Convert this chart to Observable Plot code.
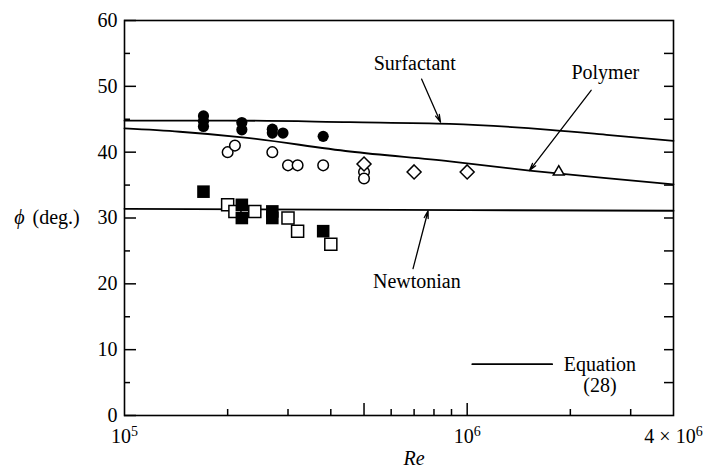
<!DOCTYPE html>
<html>
<head>
<meta charset="utf-8">
<script src="https://cdn.jsdelivr.net/npm/d3@7"></script>
<script src="https://cdn.jsdelivr.net/npm/@observablehq/plot@0.6"></script>
<style>
  body { margin: 0; background: #fff; }
  #chart svg { display: block; }
</style>
</head>
<body>
<div id="chart"></div>
<script>
// ---------- data ----------
// Surfactant (filled circles)
const filledCircleRe  = [1.7e5, 1.7e5, 1.7e5, 2.2e5, 2.2e5, 2.7e5, 2.7e5, 2.9e5, 3.8e5];
const filledCirclePhi = [45.5, 44.7, 43.9, 44.5, 43.4, 43.5, 42.9, 42.9, 42.4];
// Polymer (hollow circles)
const hollowCircleRe  = [2.0e5, 2.1e5, 2.7e5, 3.0e5, 3.2e5, 3.8e5, 5e5, 5e5];
const hollowCirclePhi = [40, 41, 40, 38, 38, 38, 37, 36];
// Newtonian (filled squares)
const filledSquareRe  = [1.7e5, 2.2e5, 2.2e5, 2.7e5, 2.7e5, 3.8e5];
const filledSquarePhi = [34, 32, 30, 31, 30, 28];
// Newtonian (hollow squares)
const hollowSquareRe  = [2.0e5, 2.1e5, 2.4e5, 3.0e5, 3.2e5, 4.0e5];
const hollowSquarePhi = [32, 31, 31, 30, 28, 26];
// Polymer (diamonds, triangle)
const diamondRe  = [5e5, 7e5, 1e6];
const diamondPhi = [38.2, 37, 37];
const triangleRe  = [1.85e6];
const trianglePhi = [37];

// Equation (28) curves
const surfactantRe  = [1e5, 2e5, 4.55e5, 8.9e5, 1.74e6, 2.6e6, 4e6];
const surfactantPhi = [44.8, 44.8, 44.55, 44.3, 43.4, 42.6, 41.7];
const polymerRe  = [1e5, 1.45e5, 2.17e5, 4.55e5, 8.9e5, 1.52e6, 2.5e6, 4e6];
const polymerPhi = [43.6, 43.1, 42.3, 40.1, 38.6, 37.2, 36.1, 35.1];
const newtonianRe  = [1e5, 1e6, 4e6];
const newtonianPhi = [31.4, 31.2, 31.1];

// Legend sample line
const legendRe  = [1.035e6, 1.77e6];
const legendPhi = [7.8, 7.8];

// Annotation texts
const noteLabels = ["Surfactant", "Polymer", "Newtonian", "Equation", "(28)"];
const noteRe     = [7.03e5, 2.53e6, 7.13e5, 2.44e6, 2.44e6];
const notePhi    = [53.4, 52.1, 20.4, 7.8, 4.6];

// Annotation arrows
const arrowRe1  = [7.36e5, 2.30e6, 6.95e5];
const arrowPhi1 = [51.1, 49.4, 22.3];
const arrowRe2  = [8.36e5, 1.52e6, 7.69e5];
const arrowPhi2 = [44.55, 37.2, 31.1];

// Axes
const yTickValues = [0, 10, 20, 30, 40, 50, 60];
const yMinorTicks = [5, 15, 25, 35, 45, 55];
const yRightTicks = [5, 10, 15, 20, 25, 30, 35, 40, 45, 50, 55];
const xLabelValues = [1e5, 1e6, 4e6];
const xTickLabels  = ["10^5", "10^6", "4 × 10^6"];
const xMajorTicks = [5e5, 1e6];
const xMinorTicks = [2e5, 3e5, 4e5, 6e5, 7e5, 8e5, 9e5, 2e6, 3e6];
const xLabelText = "Re";
const yLabelSymbol = "ϕ";
const yLabelUnit = "(deg.)";

// ---------- build ----------
const W = 706, H = 475, mL = 124, mR = 33, mT = 20, mB = 60;
const fw = W - mL - mR, fh = H - mT - mB;
const pts = (re, phi) => re.map((r, i) => ({re: r, phi: phi[i]}));
const FONT = "'Liberation Serif', 'Times New Roman', 'DejaVu Serif', serif";

const notes = noteLabels.map((t, i) => ({label: t, re: noteRe[i], phi: notePhi[i]}));
const arrows = arrowRe1.map((r, i) => ({x1: r, y1: arrowPhi1[i], x2: arrowRe2[i], y2: arrowPhi2[i]}));

const lineOpts = {x: "re", y: "phi", stroke: "#000", strokeWidth: 1.8, curve: "monotone-x"};
const hollow = {fill: "#fff", stroke: "#000", strokeWidth: 1.5};

const chart = Plot.plot({
  width: W, height: H,
  marginLeft: mL, marginRight: mR, marginTop: mT, marginBottom: mB,
  style: {fontFamily: FONT, fontSize: "20px", background: "#fff", color: "#000"},
  x: {type: "log", domain: [1e5, 4e6]},
  y: {domain: [0, 60]},
  marks: [
    Plot.line(pts(surfactantRe, surfactantPhi), lineOpts),
    Plot.line(pts(polymerRe, polymerPhi), lineOpts),
    Plot.line(pts(newtonianRe, newtonianPhi), lineOpts),
    Plot.line(pts(legendRe, legendPhi), {x: "re", y: "phi", stroke: "#000", strokeWidth: 1.8}),

    Plot.dot(pts(hollowSquareRe, hollowSquarePhi), {x: "re", y: "phi", symbol: "square", r: 6.8, ...hollow}),
    Plot.dot(pts(filledSquareRe, filledSquarePhi), {x: "re", y: "phi", symbol: "square", r: 7.1, fill: "#000"}),
    Plot.dot(pts(hollowCircleRe, hollowCirclePhi), {x: "re", y: "phi", symbol: "circle", r: 5.3, ...hollow}),
    Plot.dot(pts(filledCircleRe, filledCirclePhi), {x: "re", y: "phi", symbol: "circle", r: 5.6, fill: "#000"}),
    Plot.dot(pts(diamondRe, diamondPhi), {x: "re", y: "phi", symbol: "diamond2", r: 6.3, ...hollow}),
    Plot.dot(pts(triangleRe, trianglePhi), {x: "re", y: "phi", symbol: "triangle2", r: 5.2, ...hollow}),

    Plot.arrow(arrows, {x1: "x1", y1: "y1", x2: "x2", y2: "y2", stroke: "#000", strokeWidth: 1.3, headLength: 9, headAngle: 30}),
    Plot.text(notes, {x: "re", y: "phi", text: "label", fontSize: 20, fill: "#000", textAnchor: "middle"}),

    Plot.frame({stroke: "#000", strokeWidth: 1.6}),
    Plot.tickY(yTickValues, {y: d => d, insetRight: fw - 12, stroke: "#000", strokeWidth: 1.5}),
    Plot.tickY(yMinorTicks, {y: d => d, insetRight: fw - 6, stroke: "#000", strokeWidth: 1.5}),
    Plot.tickY(yRightTicks, {y: d => d, insetLeft: fw - 9, stroke: "#000", strokeWidth: 1.5}),
    Plot.tickX(xMajorTicks, {x: d => d, insetTop: fh - 12, stroke: "#000", strokeWidth: 1.5}),
    Plot.tickX(xMinorTicks, {x: d => d, insetTop: fh - 6, stroke: "#000", strokeWidth: 1.5}),

    Plot.axisY({ticks: yTickValues, tickSize: 0, tickPadding: 7, fontSize: 20, label: null, tickFormat: d => String(d)}),
    Plot.axisX({ticks: xLabelValues, tickSize: 0, tickPadding: 13, fontSize: 20, label: null,
                tickFormat: (d) => xTickLabels[xLabelValues.indexOf(d)]}),

    Plot.text([{re: 7.0e5, label: xLabelText}], {x: "re", text: "label", frameAnchor: "bottom", dy: 49, fontSize: 20, fontStyle: "italic", fill: "#000"}),
    Plot.text([{phi: 30, label: yLabelSymbol}], {y: "phi", text: "label", frameAnchor: "left", dx: -105, fontSize: 20, fontStyle: "italic", fill: "#000", textAnchor: "middle"}),
    Plot.text([{phi: 30, label: yLabelUnit}], {y: "phi", text: "label", frameAnchor: "left", dx: -92, fontSize: 20, fill: "#000", textAnchor: "start"})
  ]
});

// superscripts in x tick labels
d3.select(chart).selectAll('g[aria-label="x-axis tick label"] text').each(function () {
  const t = this.textContent;
  if (t.includes("^")) {
    const [b, s] = t.split("^");
    const sel = d3.select(this);
    sel.text(null);
    sel.append("tspan").text(b);
    sel.append("tspan").attr("dy", "-0.45em").attr("font-size", "14px").text(s);
  }
});

document.getElementById("chart").appendChild(chart);
</script>
</body>
</html>
